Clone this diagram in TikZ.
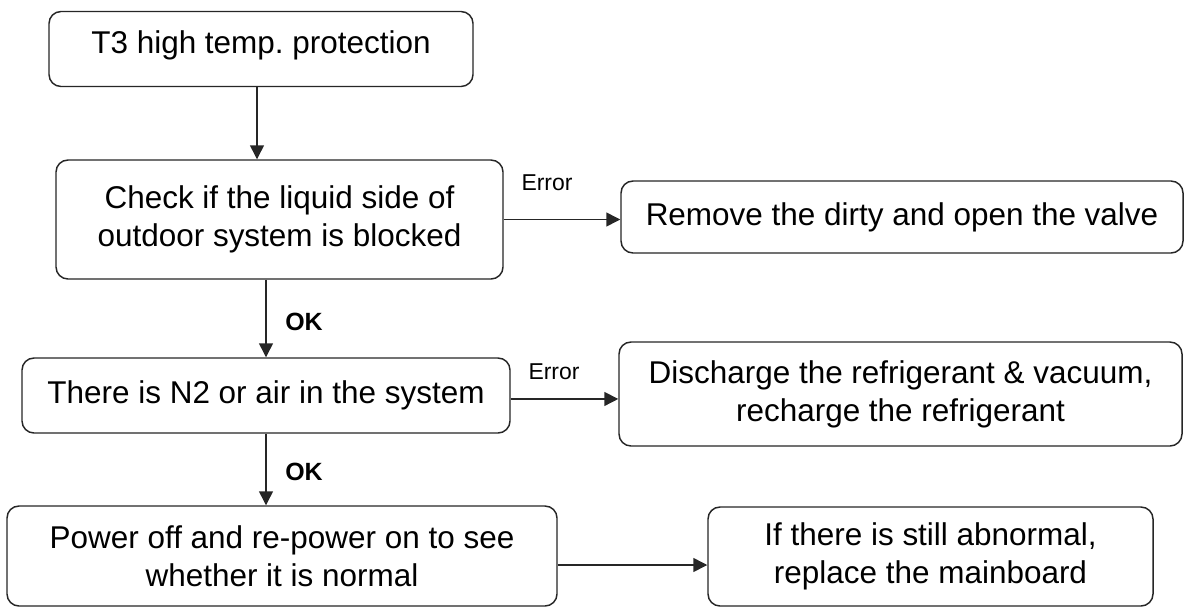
\documentclass[tikz,border=0pt]{standalone}
\usepackage{fontspec}
\setmainfont{Liberation Sans}
\usetikzlibrary{positioning}
\usetikzlibrary{calc}
\usetikzlibrary{arrows.meta}

\begin{document}
\begin{tikzpicture}[x=0.75pt, y=-0.75pt,
    FBox/.style 2 args={rectangle, rounded corners=9pt, draw=black!85, fill=white, line width=1.1pt,
                        minimum width=#1*0.75pt, minimum height=#2*0.75pt, inner sep=0pt, align=center,
                        font=\fontsize{23.6}{28.4}\selectfont},
    FArrow/.style={-{Triangle[length=10.5pt, width=10.5pt]}, black!85, line width=1.1pt},
    FErr/.style={font=\fontsize{17.2}{20}\selectfont, inner sep=0pt},
    FOk/.style={font=\fontsize{18.7}{22}\selectfont\bfseries, inner sep=0pt}]

            \useasboundingbox (0,0) rectangle (1184,607);

            \node[FBox={424}{75}, text depth=11pt] (B0) at (261,49) {T3 high temp.\ protection};
            \node[FBox={447}{119}] (B1) at (279.5,219.5)
                {Check if the liquid side of\\
                 outdoor system is blocked};
            \node[FBox={562}{72}] (B2) at (902,217)
                {Remove the dirty and open the valve};
            \node[FBox={488}{75}] (B3) at (266,395.5)
                {There is N2 or air in the system};
            \node[FBox={563}{104}] (B4) at (900.5,394)
                {Discharge the refrigerant \& vacuum,\\
                 recharge the refrigerant};
            \node[FBox={550}{100}] (B5) at (282,556)
                {Power off and re-power on to see\\
                 whether it is normal};
            \node[FBox={445}{99}] (B6) at (930.5,556.5)
                {If there is still abnormal,\\
                 replace the mainboard};

            \node[FErr] (E1) at (547,183) {Error};
            \node[FErr] (E2) at (554,372) {Error};
            \node[FOk] (K1) at (304,322) {OK};
            \node[FOk] (K2) at (304,472) {OK};

            \coordinate (A0) at ([xshift=-3pt]B0.south);
            \coordinate (A3) at ([yshift=-2.6pt]B3.east);
            \coordinate (A5) at ([yshift=-6.75pt]B5.east);

            \draw[FArrow] (A0) -- (A0 |- B1.north);
            \draw[FArrow] (B1.east) -- (B1.east -| B2.west);
            \draw[FArrow] (B1.south -| B3.north) -- (B3.north);
            \draw[FArrow] (A3) -- (A3 -| B4.west);
            \draw[FArrow] (B3.south) -- (B3.south |- B5.north);
            \draw[FArrow] (A5) -- (A5 -| B6.west);
        \end{tikzpicture}
\end{document}
